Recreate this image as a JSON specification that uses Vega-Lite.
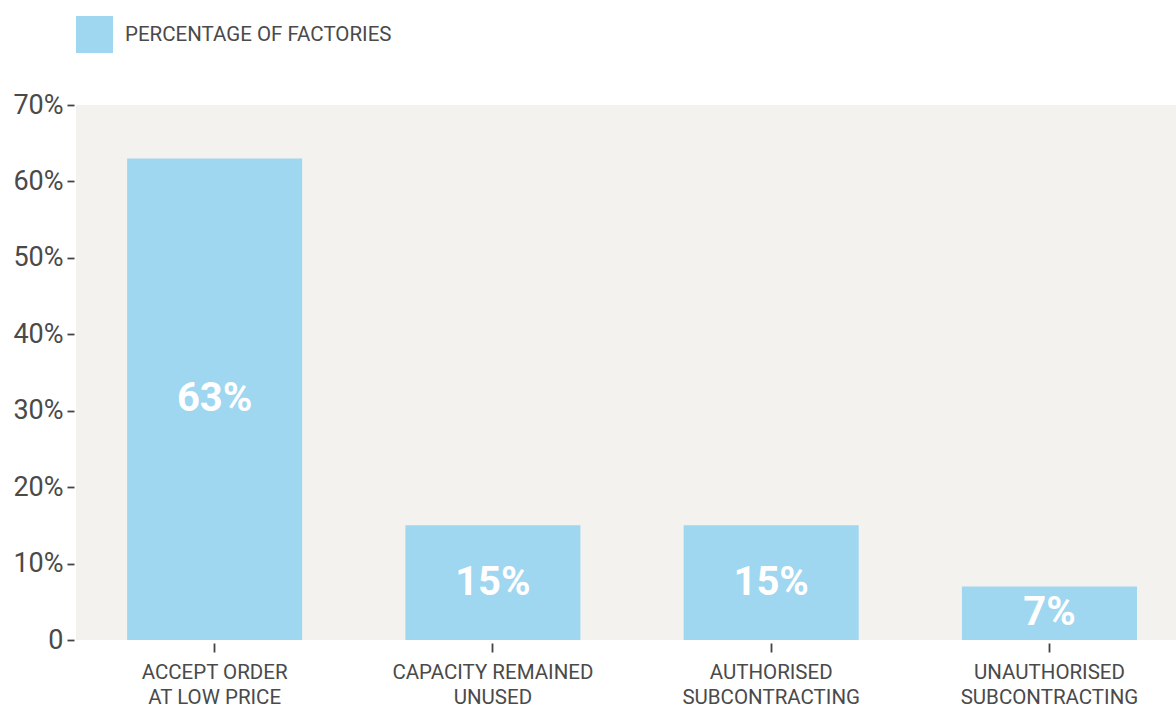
{
  "$schema": "https://vega.github.io/schema/vega-lite/v6.json",
  "width": 1100,
  "height": 535,
  "autosize": "none",
  "padding": {"left": 76, "top": 105, "right": 0, "bottom": 67},
  "background": "#ffffff",
  "config": {
    "view": {"fill": "#f3f2ef", "stroke": null},
    "font": "Roboto"
  },
  "data": {
    "values": [
      {"category": "ACCEPT ORDER|AT LOW PRICE", "value": 63, "series": "PERCENTAGE OF FACTORIES"},
      {"category": "CAPACITY REMAINED|UNUSED", "value": 15, "series": "PERCENTAGE OF FACTORIES"},
      {"category": "AUTHORISED|SUBCONTRACTING", "value": 15, "series": "PERCENTAGE OF FACTORIES"},
      {"category": "UNAUTHORISED|SUBCONTRACTING", "value": 7, "series": "PERCENTAGE OF FACTORIES"}
    ]
  },
  "transform": [
    {"calculate": "datum.value / 2", "as": "mid"},
    {"calculate": "datum.value + '%'", "as": "label"}
  ],
  "encoding": {
    "x": {
      "field": "category",
      "type": "nominal",
      "sort": null,
      "scale": {"paddingInner": 0.371, "paddingOuter": 0.162, "align": 0.567},
      "axis": {
        "title": null,
        "labelAngle": 0,
        "labelExpr": "split(datum.value, '|')",
        "labelFontSize": 20.5,
        "labelLineHeight": 25,
        "labelLimit": 400,
        "labelColor": "#4a4a4a",
        "labelPadding": 10,
        "tickColor": "#444444",
        "tickSize": 9,
        "tickWidth": 1.8,
        "domain": false,
        "offset": 3
      }
    }
  },
  "layer": [
    {
      "mark": {"type": "bar", "color": "#9fd6f0"},
      "encoding": {
        "y": {
          "field": "value",
          "type": "quantitative",
          "scale": {"domain": [0, 70], "nice": false},
          "axis": {
            "title": null,
            "values": [0, 10, 20, 30, 40, 50, 60, 70],
            "labelExpr": "datum.value == 0 ? '0\u00a0\u00a0\u00a0' : datum.value + '%'",
            "labelFontSize": 27,
            "labelColor": "#4a4a4a",
            "labelPadding": 4,
            "tickColor": "#444444",
            "tickSize": 7,
            "tickWidth": 1.8,
            "domain": false,
            "grid": false,
            "offset": 2
          }
        },
        "color": {
          "field": "series",
          "type": "nominal",
          "scale": {"range": ["#9fd6f0"]},
          "legend": {
            "title": null,
            "orient": "none",
            "legendX": 0,
            "legendY": -89,
            "symbolType": "square",
            "symbolSize": 1369,
            "symbolStrokeWidth": 0,
            "symbolOpacity": 1,
            "labelFontSize": 20.5,
            "labelLimit": 500,
            "labelColor": "#4a4a4a",
            "labelOffset": 12,
            "padding": 0
          }
        }
      }
    },
    {
      "mark": {"type": "text", "color": "#ffffff", "fontSize": 40, "fontWeight": "bold", "baseline": "middle", "align": "center"},
      "encoding": {
        "y": {"field": "mid", "type": "quantitative"},
        "text": {"field": "label", "type": "nominal"}
      }
    }
  ]
}
